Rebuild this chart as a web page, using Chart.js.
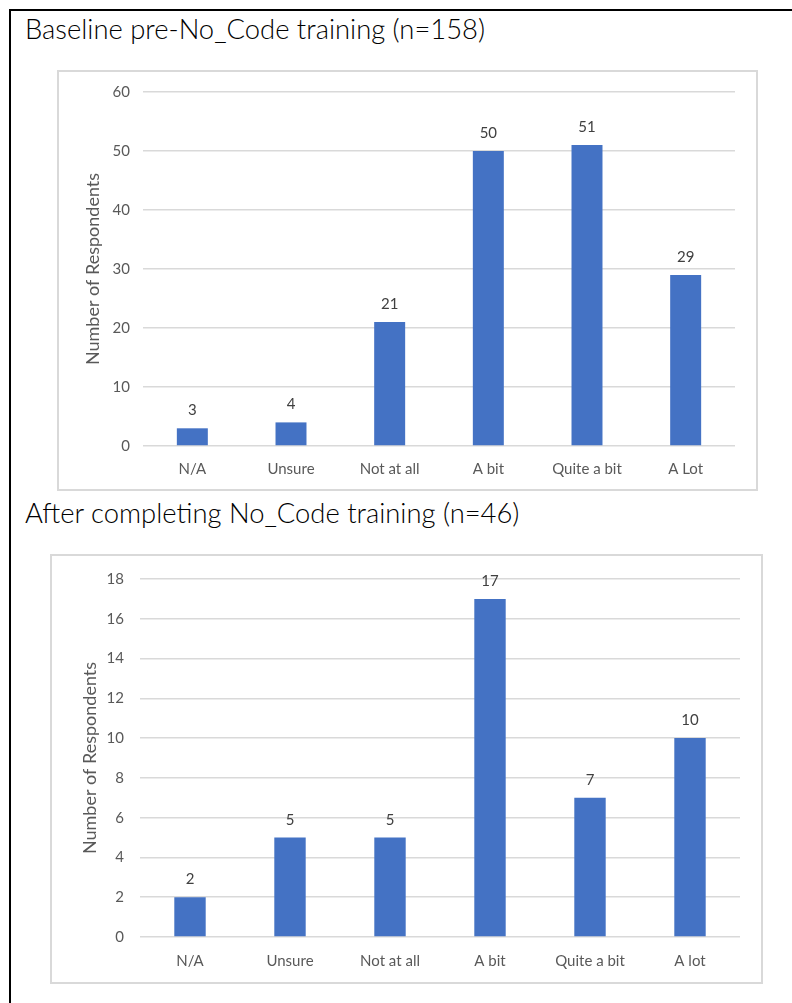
<!DOCTYPE html>
<html>
<head>
<meta charset="utf-8">
<script src="https://cdn.jsdelivr.net/npm/chart.js@4.4.0/dist/chart.umd.min.js"></script>
<style>
  body { margin: 0; background: #fff; width: 792px; height: 1003px; position: relative; overflow: hidden; font-family: Lato, sans-serif; }
  .frame-top { position: absolute; left: 9px; top: 9px; width: 783px; height: 2px; background: #000; }
  .frame-left { position: absolute; left: 9px; top: 9px; width: 2px; height: 994px; background: #000; }
  .heading { position: absolute; left: 25px; font-size: 27.4px; font-weight: 300; color: #000; white-space: nowrap; line-height: 1; }
  .box { position: absolute; border: 2px solid #d9d9d9; box-sizing: border-box; pointer-events: none; }
  canvas { position: absolute; }
</style>
</head>
<body>
<div class="frame-top"></div>
<div class="frame-left"></div>

<div class="heading" id="h1" style="top: 15px;">Baseline pre-No_Code training (n=158)</div>
<canvas id="chart-before" width="700" height="420" style="left: 57px; top: 70px;"></canvas>
<div class="box" style="left: 57px; top: 70px; width: 701px; height: 421px;"></div>

<div class="heading" id="h2" style="top: 499px;">After completing No_Code training (n=46)</div>
<canvas id="chart-after" width="712" height="429" style="left: 50px; top: 554px;"></canvas>
<div class="box" style="left: 50px; top: 554px; width: 713px; height: 430px;"></div>

<script>
const labelsBefore = ['N/A', 'Unsure', 'Not at all', 'A bit', 'Quite a bit', 'A Lot'];
const valuesBefore = [3, 4, 21, 50, 51, 29];
const labelsAfter = ['N/A', 'Unsure', 'Not at all', 'A bit', 'Quite a bit', 'A lot'];
const valuesAfter = [2, 5, 5, 17, 7, 10];
const axisTitle = 'Number of Respondents';

const barColor = '#4472c4';
const gridColor = '#d9d9d9';
const tickColor = '#595959';
const fontFamily = 'Lato, sans-serif';

// writes the value above every bar
const valueLabels = {
    id: 'valueLabels',
    afterDatasetsDraw(chart)
    {
        const ctx = chart.ctx;
        const meta = chart.getDatasetMeta(0);
        const data = chart.data.datasets[0].data;

        ctx.save();
        ctx.font = '15px ' + fontFamily;
        ctx.fillStyle = '#404040';
        ctx.textAlign = 'center';
        ctx.textBaseline = 'alphabetic';

        meta.data.forEach((bar, i) => {
            ctx.fillText(String(data[i]), bar.x, bar.y - 13);
        });

        ctx.restore();
    }
};

function makeChart(canvas, labels, values, opts)
{
    return new Chart(canvas, {
        type: 'bar',
        data: {
            labels: labels,
            datasets: [{
                data: values,
                backgroundColor: barColor,
                borderWidth: 0,
                categoryPercentage: 1,
                barPercentage: 0.314
            }]
        },
        options: {
            responsive: false,
            animation: false,
            layout: {
                padding: { left: 0, right: 22, top: opts.top, bottom: 0 }
            },
            plugins: {
                legend: { display: false },
                tooltip: { enabled: false }
            },
            scales: {
                x: {
                    grid: { display: false },
                    border: { display: false },
                    ticks: {
                        color: tickColor,
                        padding: opts.xPad,
                        font: { family: fontFamily, size: 15 }
                    },
                    afterFit: (scale) => { scale.height = opts.xHeight; }
                },
                y: {
                    min: 0,
                    max: opts.max,
                    grid: { color: gridColor, lineWidth: 1.5, drawTicks: false },
                    border: { display: false },
                    ticks: {
                        stepSize: opts.step,
                        color: tickColor,
                        padding: opts.yPad,
                        font: { family: fontFamily, size: 15 }
                    },
                    title: {
                        display: true,
                        text: axisTitle,
                        color: tickColor,
                        font: { family: fontFamily, size: 18 },
                        padding: { top: opts.titlePad, bottom: 0 }
                    },
                    afterFit: (scale) => { scale.width = opts.yWidth; }
                }
            }
        },
        plugins: [valueLabels]
    });
}

makeChart(document.getElementById('chart-before'), labelsBefore, valuesBefore, {
    max: 60, step: 10, top: 22, xHeight: 44, yWidth: 86, xPad: 6, yPad: 13, titlePad: 25
});

makeChart(document.getElementById('chart-after'), labelsAfter, valuesAfter, {
    max: 18, step: 2, top: 23, xHeight: 46, yWidth: 90, xPad: 7, yPad: 16, titlePad: 29
});
</script>
</body>
</html>
